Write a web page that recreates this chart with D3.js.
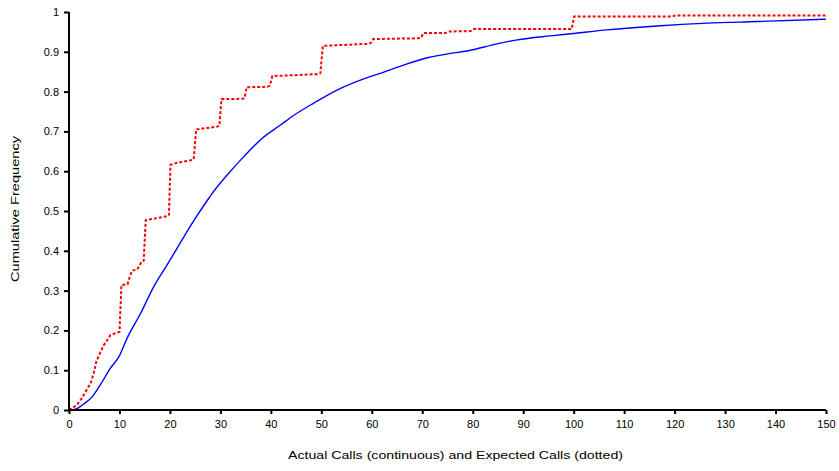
<!DOCTYPE html>
<html>
<head>
<meta charset="utf-8">
<script src="https://cdn.jsdelivr.net/npm/d3@7"></script>
<style>
  html, body { margin: 0; padding: 0; background: #fff; }
  svg { display: block; }
  text { font-family: "Liberation Sans", Arial, sans-serif; fill: #000; }
</style>
</head>
<body>
<svg id="chart" width="839" height="471"></svg>
<script>
// ---- Data ----
const xTicks = [0,10,20,30,40,50,60,70,80,90,100,110,120,130,140,150];
const yTicks = [0,0.1,0.2,0.3,0.4,0.5,0.6,0.7,0.8,0.9,1];

// Actual calls (continuous) - [calls, cumulative frequency]
const actualCalls = [
  [0,0],[1.3,0.002],[2.9,0.015],[4.6,0.033],[6.2,0.063],[8.2,0.105],[9.9,0.134],
  [11.5,0.18],[14.2,0.243],[16.8,0.31],[19.5,0.366],[22.1,0.421],[24.7,0.475],
  [27.7,0.532],[28.7,0.550],[31.3,0.590],[34.6,0.636],[38.3,0.683],[41.9,0.716],
  [44.5,0.740],[48.5,0.771],[53.8,0.808],[58.4,0.832],[62.4,0.849],
  [65.7,0.864],[71.0,0.885],[75.6,0.896],[78.9,0.902],[84.8,0.920],[88.8,0.930],
  [95.4,0.940],[100,0.946],[106.6,0.955],[116.5,0.965],[126.5,0.972],[136.4,0.976],
  [150,0.982]
];

// Expected calls (dotted) - [calls, cumulative frequency]
const expectedCalls = [
  [0,0],[1.5,0.012],[2.4,0.027],[3.3,0.046],[4.3,0.068],[4.9,0.093],[5.4,0.121],
  [6.1,0.142],[6.9,0.163],[7.6,0.176],[8.2,0.188],[9.4,0.194],[10.0,0.196],
  [10.4,0.314],[11.6,0.316],[12,0.333],[12.5,0.35],[13.5,0.353],[14.4,0.373],
  [14.8,0.375],[15.2,0.477],[19.5,0.487],[19.8,0.49],[20.1,0.616],[21.4,0.621],
  [24.4,0.628],[24.7,0.63],[25.2,0.705],[29.4,0.712],[29.8,0.714],[30.2,0.781],
  [34.5,0.782],[34.8,0.784],[35.2,0.811],[39.3,0.812],[39.8,0.815],[40.3,0.839],
  [49.5,0.844],[49.8,0.846],[50.3,0.915],[59.4,0.92],[59.8,0.922],[60.3,0.932],
  [69.3,0.934],[69.8,0.936],[70.2,0.947],[74.5,0.947],[75.4,0.951],[79.5,0.952],
  [79.8,0.953],[80.2,0.957],[99.6,0.957],[100.1,0.989],[119.6,0.989],[120.1,0.991],
  [150,0.991]
];

// ---- Layout ----
const svg = d3.select("#chart");
const mLeft = 69, mRight = 826, mTop = 12, mBottom = 410;

const x = d3.scaleLinear().domain([0,150]).range([mLeft, mRight]);
const y = d3.scaleLinear().domain([0,1]).range([mBottom, mTop]);

const smoothLine = d3.line().x(d => x(d[0])).y(d => y(d[1])).curve(d3.curveMonotoneX);
const line = d3.line().x(d => x(d[0])).y(d => y(d[1]));

// Lines
svg.append("path")
  .datum(actualCalls)
  .attr("d", smoothLine)
  .attr("fill", "none")
  .attr("stroke", "#0000ff")
  .attr("stroke-width", 1.4);

svg.append("path")
  .datum(expectedCalls)
  .attr("d", line)
  .attr("fill", "none")
  .attr("stroke", "#ff0000")
  .attr("stroke-width", 2)
  .attr("stroke-dasharray", "3,2");

// Axes
const xAxis = d3.axisBottom(x).tickValues(xTicks).tickSize(4).tickPadding(6)
  .tickFormat(d3.format("d"));
const yAxis = d3.axisLeft(y).tickValues(yTicks).tickSize(5).tickPadding(5)
  .tickFormat(d => d === 0 ? "0" : d === 1 ? "1" : d3.format(".1f")(d));

const gx = svg.append("g").attr("transform", `translate(0,${mBottom})`).call(xAxis);
const gy = svg.append("g").attr("transform", `translate(${mLeft},0)`).call(yAxis);

[gx, gy].forEach(g => {
  g.select(".domain").attr("stroke", "#000").attr("stroke-width", 2);
  g.selectAll(".tick line").attr("stroke", "#000").attr("stroke-width", 2);
  g.selectAll(".tick text").attr("font-size", 11)
    .attr("font-family", '"Liberation Sans", Arial, sans-serif').attr("fill", "#000");
});
gx.select(".domain").attr("d", `M${mLeft},0H${mRight}`);
gy.select(".domain").attr("d", `M0,${mBottom}V${mTop}`);

// Axis titles
svg.append("text")
  .attr("x", 455.5)
  .attr("y", 458.5)
  .attr("text-anchor", "middle")
  .attr("font-size", 11.5)
  .attr("textLength", 335)
  .attr("lengthAdjust", "spacingAndGlyphs")
  .text("Actual Calls (continuous) and Expected Calls (dotted)");

svg.append("text")
  .attr("transform", `translate(18.5,209) rotate(-90)`)
  .attr("text-anchor", "middle")
  .attr("font-size", 11.5)
  .attr("textLength", 146)
  .attr("lengthAdjust", "spacingAndGlyphs")
  .text("Cumulative Frequency");
</script>
</body>
</html>
